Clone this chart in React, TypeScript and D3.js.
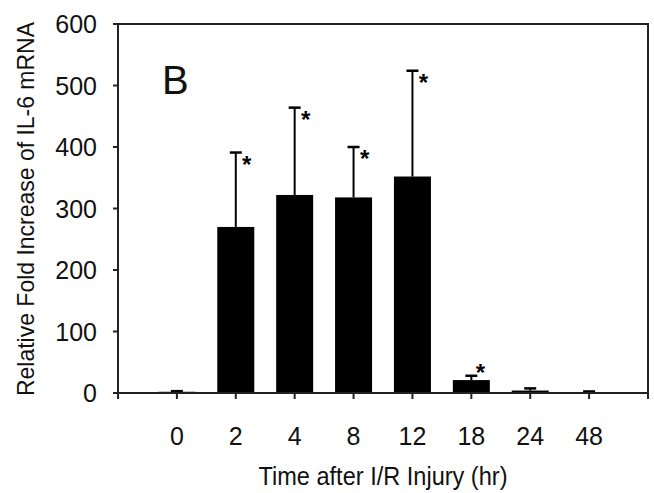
import React from "react";
import * as d3 from "d3";

const categories = ["0", "2", "4", "8", "12", "18", "24", "48"];
const means = [2, 270, 322, 318, 352, 21, 4, 1];
const errors = [1, 121, 142, 82, 172, 7, 3.5, 1.5];
const significant = [false, true, true, true, true, true, false, false];
const yTicks = [0, 100, 200, 300, 400, 500, 600];

const W = 654;
const H = 493;
const left = 118;
const right = 648;
const top = 24;
const bottom = 393;
const FONT = "'Liberation Sans', Arial, sans-serif";

export default function App() {
  const x = d3.scalePoint<string>().domain(categories).range([left, right]).padding(1);
  const y = d3.scaleLinear().domain([0, 600]).range([bottom, top]);
  const step = x.step();
  const barW = 37;
  const xTickPos = d3.range(categories.length + 2).map((i) => left + i * step);
  const stroke = "#222";

  return (
    <svg
      width={W}
      height={H}
      style={{ position: "absolute", left: 0, top: 0, background: "#fff" }}
      fontFamily={FONT}
    >
      <rect x={0} y={0} width={W} height={H} fill="#fff" />
      {categories.map((c, i) => (
        <rect
          key={"b" + c}
          x={(x(c) as number) - barW / 2}
          y={y(means[i])}
          width={barW}
          height={y(0) - y(means[i])}
          fill="#000"
        />
      ))}
      {categories.map((c, i) => {
        const cx = x(c) as number;
        const yt = y(means[i] + errors[i]);
        return (
          <g key={"e" + c} stroke="#000" strokeWidth={2}>
            <line x1={cx} x2={cx} y1={y(means[i])} y2={yt} />
            <line x1={cx - 6} x2={cx + 6} y1={yt} y2={yt} strokeWidth={2.5} />
          </g>
        );
      })}
      {categories.map((c, i) => {
        if (!significant[i]) return null;
        const cx = x(c) as number;
        const yt = y(means[i] + errors[i]);
        const small = means[i] < 100;
        const sx = cx + (small ? 9 : 11);
        const sy = small ? yt - 8 : yt + 7;
        return (
          <text
            key={"s" + c}
            x={sx}
            y={sy + 13}
            textAnchor="middle"
            fontSize={24}
            fontWeight="bold"
            fill="#000"
          >
            *
          </text>
        );
      })}
      <rect
        x={left}
        y={top}
        width={right - left}
        height={bottom - top}
        fill="none"
        stroke={stroke}
        strokeWidth={2}
      />
      {yTicks.map((t) => (
        <g key={"yt" + t}>
          <line x1={left - 5} x2={left} y1={y(t)} y2={y(t)} stroke={stroke} strokeWidth={2} />
          <text
            x={97}
            y={y(t)}
            dy="0.36em"
            textAnchor="end"
            fontSize={25}
            fill="#111"
          >
            {t}
          </text>
        </g>
      ))}
      {xTickPos.map((p, i) => (
        <line key={"xt" + i} x1={p} x2={p} y1={bottom} y2={bottom + 6} stroke={stroke} strokeWidth={2} />
      ))}
      {categories.map((c) => (
        <text key={"xl" + c} x={x(c) as number} y={445} textAnchor="middle" fontSize={25} fill="#111">
          {c}
        </text>
      ))}
      <text
        x={(left + right) / 2}
        y={485}
        textAnchor="middle"
        fontSize={25}
        fill="#111"
        textLength={249}
        lengthAdjust="spacingAndGlyphs"
      >
        Time after I/R Injury (hr)
      </text>
      <text
        transform={`translate(34, 209) rotate(-90)`}
        textAnchor="middle"
        fontSize={24}
        fill="#111"
        textLength={374}
        lengthAdjust="spacingAndGlyphs"
      >
        Relative Fold Increase of IL-6 mRNA
      </text>
      <text x={162} y={94} fontSize={40} fill="#111">
        B
      </text>
    </svg>
  );
}
